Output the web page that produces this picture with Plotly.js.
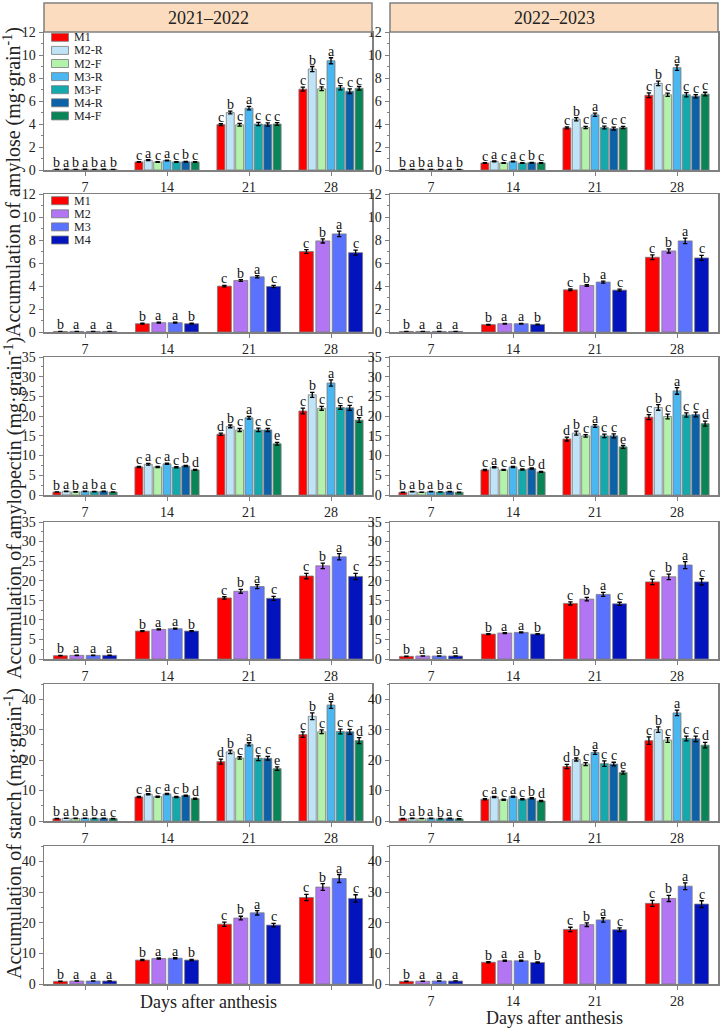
<!DOCTYPE html>
<html><head><meta charset="utf-8">
<script src="https://cdn.plot.ly/plotly-3.0.1.min.js"></script>
<style>html,body{margin:0;padding:0;background:#fff}#chart{width:722px;height:1032px}</style>
</head><body><div id="chart"></div>
<script>
// ---------- categories / labels ----------
const days = ['7','14','21','28'];
const series7 = ['M1','M2-R','M2-F','M3-R','M3-F','M4-R','M4-F'];
const series4 = ['M1','M2','M3','M4'];
const colors7 = ['#FF0000','#BFE4F7','#B3F2AA','#4BB7F0','#13A9AD','#0B62A8','#0A8558'];
const colors4 = ['#FF0000','#B276F5','#5B72FF','#0414BD'];
const years = ['2021–2022','2022–2023'];
const yTitles = ['Accumulation of amylose (mg·grain<sup>-1</sup>)',
                 'Accumulation of amylopectin (mg·grain<sup>-1</sup>)',
                 'Accumulation of starch (mg·grain<sup>-1</sup>)'];
const xTitle = 'Days after anthesis';

// ---------- values (rows = series, cols = days 7,14,21,28) ----------
const amylose7_A = [[0.05,0.70,3.95,7.03],[0.06,0.85,5.00,8.78],[0.05,0.70,3.93,7.06],[0.06,0.82,5.38,9.50],[0.05,0.70,4.00,7.15],[0.06,0.72,3.95,6.85],[0.05,0.70,4.00,7.10]];
const amylose7_B = [[0.04,0.61,3.66,6.50],[0.05,0.75,4.42,7.53],[0.04,0.61,3.69,6.54],[0.05,0.73,4.80,8.90],[0.04,0.61,3.69,6.54],[0.05,0.64,3.60,6.42],[0.04,0.61,3.69,6.60]];
const amylose4_A = [[0.04,0.72,3.99,7.00],[0.05,0.81,4.48,7.92],[0.05,0.81,4.80,8.53],[0.05,0.72,3.96,6.90]];
const amylose4_B = [[0.04,0.64,3.67,6.50],[0.05,0.72,4.05,7.05],[0.05,0.72,4.34,7.92],[0.05,0.66,3.64,6.44]];
const amylopectin7_A = [[0.76,7.12,15.4,21.3],[0.93,7.80,17.4,25.4],[0.78,7.12,16.5,22.0],[0.93,7.90,19.6,28.4],[0.85,7.03,16.5,22.2],[0.93,7.37,16.5,22.1],[0.76,6.36,13.0,19.0]];
const amylopectin7_B = [[0.68,6.36,14.2,19.75],[0.85,7.03,15.7,22.2],[0.70,6.36,15.0,19.9],[0.85,7.12,17.5,26.4],[0.76,6.44,15.0,20.3],[0.85,6.70,15.0,20.4],[0.68,5.85,12.2,18.1]];
const amylopectin4_A = [[0.85,7.14,15.6,21.2],[0.93,7.56,17.3,23.8],[0.93,7.73,18.5,26.1],[0.93,7.14,15.5,21.1]];
const amylopectin4_B = [[0.68,6.37,14.2,19.7],[0.76,6.63,15.3,21.0],[0.76,6.80,16.5,24.0],[0.76,6.37,14.1,19.7]];
const starch7_A = [[0.77,7.9,19.5,28.4],[0.88,8.77,22.7,34.4],[0.85,8.0,20.7,29.3],[0.88,8.88,25.2,38.1],[0.85,7.9,20.6,29.4],[0.88,8.33,20.6,29.3],[0.77,7.34,17.2,26.4]];
const starch7_B = [[0.77,7.12,17.9,26.4],[0.85,7.9,20.2,30.0],[0.80,7.0,18.7,26.6],[0.85,8.0,22.5,35.5],[0.77,7.12,18.85,27.1],[0.85,7.45,18.7,27.0],[0.70,6.58,15.9,24.9]];
const starch4_A = [[0.86,7.8,19.5,28.2],[0.97,8.3,21.5,31.6],[0.97,8.4,23.2,34.4],[0.97,7.8,19.2,27.9]];
const starch4_B = [[0.86,7.1,17.8,26.3],[0.90,7.57,19.35,27.9],[0.97,7.57,20.9,31.9],[0.97,7.0,17.7,26.05]];

// ---------- error bars ----------
const amyloseErr7_A = [[0.01,0.03,0.08,0.17],[0.01,0.04,0.12,0.22],[0.01,0.03,0.12,0.16],[0.01,0.03,0.15,0.26],[0.01,0.03,0.14,0.18],[0.01,0.03,0.14,0.20],[0.01,0.03,0.12,0.16]];
const amyloseErr7_B = [[0.01,0.03,0.08,0.20],[0.01,0.04,0.14,0.20],[0.01,0.03,0.10,0.14],[0.01,0.03,0.14,0.24],[0.01,0.03,0.12,0.18],[0.01,0.03,0.12,0.14],[0.01,0.03,0.10,0.16]];
const amyloseErr4_A = [[0.01,0.04,0.07,0.17],[0.01,0.04,0.08,0.18],[0.01,0.04,0.10,0.24],[0.01,0.04,0.10,0.22]];
const amyloseErr4_B = [[0.01,0.03,0.07,0.20],[0.01,0.03,0.07,0.18],[0.01,0.03,0.09,0.24],[0.01,0.03,0.08,0.22]];
const amylopectinErr7_A = [[0.05,0.15,0.30,0.75],[0.04,0.20,0.35,0.65],[0.04,0.15,0.40,0.50],[0.04,0.15,0.35,0.80],[0.04,0.15,0.45,0.45],[0.04,0.15,0.40,0.65],[0.04,0.12,0.35,0.60]];
const amylopectinErr7_B = [[0.05,0.15,0.50,0.65],[0.04,0.15,0.50,0.70],[0.04,0.12,0.30,0.60],[0.04,0.15,0.35,0.85],[0.04,0.15,0.45,0.55],[0.04,0.15,0.50,0.60],[0.04,0.12,0.35,0.65]];
const amylopectinErr4_A = [[0.05,0.12,0.30,0.70],[0.05,0.12,0.50,0.70],[0.05,0.12,0.50,0.80],[0.05,0.12,0.50,0.80]];
const amylopectinErr4_B = [[0.05,0.12,0.40,0.70],[0.05,0.12,0.45,0.70],[0.05,0.12,0.50,0.90],[0.05,0.12,0.40,0.80]];
const starchErr7_A = [[0.06,0.2,0.8,0.9],[0.05,0.2,0.6,1.1],[0.05,0.2,0.4,0.6],[0.05,0.2,0.5,1.1],[0.05,0.2,0.8,0.8],[0.05,0.2,0.6,0.8],[0.05,0.2,0.6,1.0]];
const starchErr7_B = [[0.06,0.2,0.7,1.2],[0.05,0.2,0.5,0.9],[0.05,0.2,0.5,0.8],[0.05,0.2,0.6,0.9],[0.05,0.2,0.9,0.8],[0.05,0.2,0.6,0.9],[0.05,0.2,0.5,0.9]];
const starchErr4_A = [[0.06,0.2,0.7,1.0],[0.05,0.2,0.6,1.1],[0.05,0.2,0.7,1.3],[0.05,0.2,0.6,1.2]];
const starchErr4_B = [[0.06,0.2,0.7,1.0],[0.05,0.2,0.6,1.0],[0.05,0.2,0.7,1.1],[0.05,0.2,0.6,1.1]];

// ---------- significance letters (one string per day, one char per series) ----------
const amyloseLet7 = ['bababab','cacacbc','cbcaccc','cbcaccc'];
const amylopectinLet7 = ['bababac','cacacbd','dbcacce','cbcaccd'];
const starchLet7 = ['bababac','cacacbd','dbcacce','cbcaccd'];
const let4 = ['baaa','baab','cbac','cbac'];

// ---------- panel assembly ----------
const panels = [
  [amylose7_A, amyloseErr7_A, amyloseLet7, 7], [amylose7_B, amyloseErr7_B, amyloseLet7, 7],
  [amylose4_A, amyloseErr4_A, let4, 4], [amylose4_B, amyloseErr4_B, let4, 4],
  [amylopectin7_A, amylopectinErr7_A, amylopectinLet7, 7], [amylopectin7_B, amylopectinErr7_B, amylopectinLet7, 7],
  [amylopectin4_A, amylopectinErr4_A, let4, 4], [amylopectin4_B, amylopectinErr4_B, let4, 4],
  [starch7_A, starchErr7_A, starchLet7, 7], [starch7_B, starchErr7_B, starchLet7, 7],
  [starch4_A, starchErr4_A, let4, 4], [starch4_B, starchErr4_B, let4, 4]
];

const W = 722, H = 1032;
const FONT = 'Liberation Serif, Times New Roman, serif';
const FRAME = '#808080';
const colX = [[44,372],[390,718]];
const rowY = [[32,170],[194,332],[357,495],[522,659],[684,821],[846,984]];
const yCfg = [
  {range:[0,12], dtick:2, minor:1}, {range:[0,12], dtick:2, minor:1},
  {range:[0,35], dtick:5, minor:2.5}, {range:[0,35], dtick:5, minor:2.5},
  {range:[0,45], dtick:10, minor:5}, {range:[0,45], dtick:10, minor:5}
];
const BARGAP = 0.2, GROUPGAP = 0.15;

const traces = [];
const annotations = [];
const shapes = [];
const layout = {
  width: W, height: H, margin:{l:0,r:0,t:0,b:0},
  paper_bgcolor:'#fff', plot_bgcolor:'#fff',
  barmode:'group', bargap:BARGAP, bargroupgap:GROUPGAP,
  showlegend:false, font:{family:FONT, color:'#222'},
  annotations, shapes
};

panels.forEach((p, k) => {
  const [vals, errs, lets, n] = p;
  const r = Math.floor(k/2), c = k%2;
  const num = k+1;
  const xa = num===1 ? 'x' : 'x'+num;
  const ya = num===1 ? 'y' : 'y'+num;
  const names = n===7 ? series7 : series4;
  const cols = n===7 ? colors7 : colors4;
  names.forEach((nm, i) => {
    traces.push({
      type:'bar', name:nm, x:days, y:vals[i], xaxis:xa, yaxis:ya,
      marker:{color:cols[i], line:{color:'#7a7a7a', width:0.8}},
      error_y:{type:'data', array:errs[i], visible:true, color:'#000', thickness:1.3, width:2.2},
      hoverinfo:'skip'
    });
    const slot = (1-BARGAP)/n;
    const off = -(1-BARGAP)/2 + slot*(i+0.5);
    days.forEach((d, j) => {
      annotations.push({
        xref:xa, yref:ya, x:j+off, y:vals[i][j]+errs[i][j],
        text:lets[j][i], showarrow:false, yanchor:'bottom', yshift:-3,
        font:{size:14, family:FONT, color:'#111'}
      });
    });
  });
  const xd = [colX[c][0]/W, colX[c][1]/W];
  const yd = [1-rowY[r][1]/H, 1-rowY[r][0]/H];
  const yc = yCfg[r];
  layout['xaxis'+(num===1?'':num)] = {
    domain:xd, anchor:ya, type:'category', categoryorder:'array', categoryarray:days,
    range:[-0.5,3.5], showline:true, linecolor:FRAME, linewidth:1.5, mirror:true,
    ticks:'outside', ticklen:4, tickcolor:FRAME, tickwidth:1,
    tickfont:{size:14, family:FONT, color:'#222'}, showgrid:false, zeroline:false,
    showticklabels: !(r===5 && c===0), automargin:false, fixedrange:true
  };
  layout['yaxis'+(num===1?'':num)] = {
    domain:yd, anchor:xa, range:yc.range, tick0:0, dtick:yc.dtick,
    showline:true, linecolor:FRAME, linewidth:1.5, mirror:true,
    ticks:'outside', ticklen:4, tickcolor:FRAME, tickwidth:1,
    minor:{ticks:'outside', ticklen:2, dtick:yc.minor, tick0:0, tickcolor:FRAME, showgrid:false},
    tickfont:{size:14, family:FONT, color:'#222'}, showgrid:false, zeroline:false,
    automargin:false, fixedrange:true
  };
});

// headers
years.forEach((yr, c) => {
  shapes.push({type:'rect', xref:'paper', yref:'paper',
    x0:colX[c][0]/W, x1:colX[c][1]/W, y0:1-32/H, y1:1-3/H,
    fillcolor:'#FBDCBF', line:{color:FRAME, width:1.5}, layer:'above'});
  annotations.push({xref:'paper', yref:'paper', x:(colX[c][0]+colX[c][1])/2/W, y:1-17.5/H,
    text:yr, showarrow:false, xanchor:'center', yanchor:'middle',
    font:{size:18, family:FONT, color:'#222'}});
});

// manual legends
function addLegend(names, cols, yStart){
  names.forEach((nm, i) => {
    const yc = yStart + 13.1*i;
    shapes.push({type:'rect', xref:'paper', yref:'paper',
      x0:51.5/W, x1:68.5/W, y0:1-(yc+4)/H, y1:1-(yc-4)/H,
      fillcolor:cols[i], line:{color:'#7a7a7a', width:0.8}});
    annotations.push({xref:'paper', yref:'paper', x:72/W, y:1-yc/H, text:nm,
      showarrow:false, xanchor:'left', yanchor:'middle',
      font:{size:12, family:FONT, color:'#222'}});
  });
}
addLegend(series7, colors7, 37.3);
addLegend(series4, colors4, 200.7);

// y-axis titles
[182, 508, 834].forEach((cy, i) => {
  annotations.push({xref:'paper', yref:'paper', x:13/W, y:1-cy/H, text:yTitles[i],
    textangle:-90, showarrow:false, xanchor:'center', yanchor:'middle',
    font:{size:20, family:FONT, color:'#222'}});
});
// x-axis titles
annotations.push({xref:'paper', yref:'paper', x:208/W, y:1-1002/H, text:xTitle,
  showarrow:false, xanchor:'center', yanchor:'middle', font:{size:18, family:FONT, color:'#222'}});
annotations.push({xref:'paper', yref:'paper', x:554/W, y:1-1018/H, text:xTitle,
  showarrow:false, xanchor:'center', yanchor:'middle', font:{size:18, family:FONT, color:'#222'}});

Plotly.newPlot('chart', traces, layout, {staticPlot:true, displayModeBar:false});
</script></body></html>
